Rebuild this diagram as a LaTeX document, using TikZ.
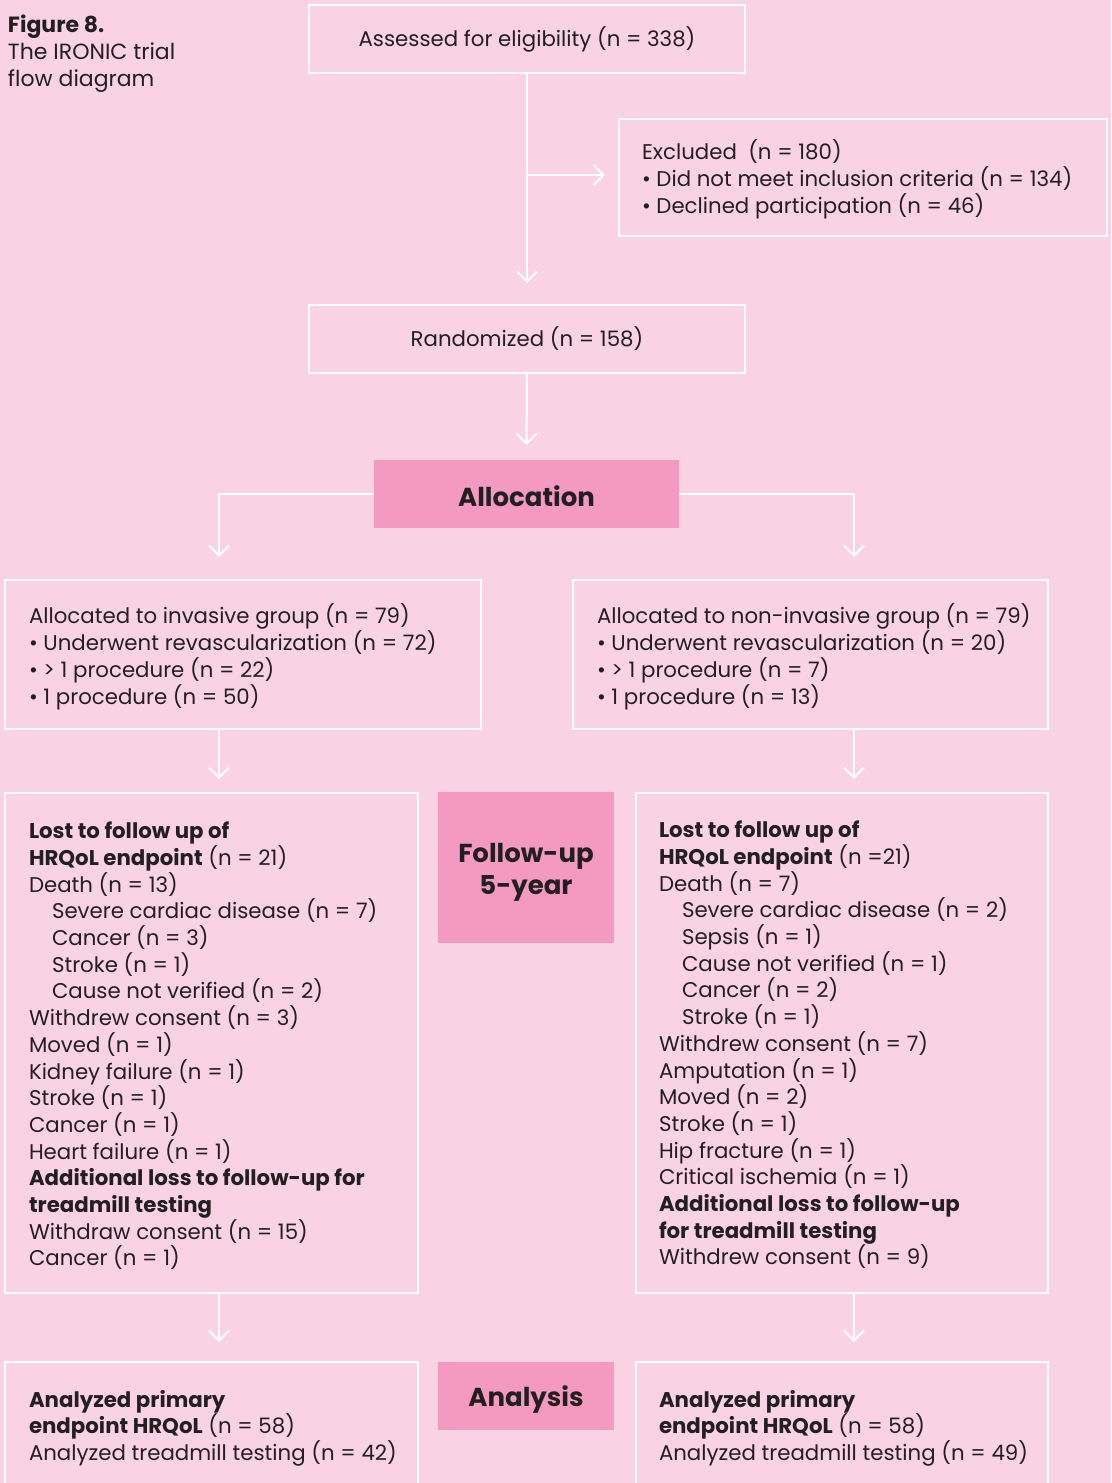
\documentclass[tikz,border=0pt]{standalone}
\usepackage{fontspec}
\setmainfont{Poppins}
\usetikzlibrary{arrows.meta}
\definecolor{bgpink}{HTML}{F9D3E3}
\definecolor{labelpink}{HTML}{F49AC1}
\definecolor{ink}{HTML}{231F20}
\begin{document}
\begin{tikzpicture}[x=1pt,y=-1pt,
 box/.style={draw=white, line width=1.5pt, inner sep=0pt, outer sep=0pt, anchor=north west, text=ink, font=\fontsize{21.3}{26.7}\selectfont},
 stage/.style={fill=labelpink, inner sep=0pt, outer sep=0pt, anchor=north west},
 stagetext/.style={inner sep=0pt, outer sep=0pt, font=\fontsize{26}{32}\selectfont\bfseries, text=ink, align=center},
 body/.style={anchor=north west, inner sep=0pt, outer sep=0pt, align=left, text=ink, font=\fontsize{21.3}{26.7}\selectfont},
 flow/.style={draw=white, line width=2pt, -{Straight Barb[length=10pt,width=20pt,line width=2pt]}},
]
\useasboundingbox (0,0) rectangle (1111,1483);
\fill[bgpink] (0,0) rectangle (1111,1483);
\clip (0,0) rectangle (1111,1483);

% title
\node[body, font=\fontsize{22}{27}\selectfont] (title) at (8,15) {\textbf{Figure 8.}\\The IRONIC trial\\flow diagram};

% boxes
\node[box, minimum width=436pt, minimum height=68pt] (assess) at (309,5) {Assessed for eligibility (n = 338)};
\node[box, minimum width=488pt, minimum height=117pt] (excl) at (619,119) {};
\node[body] (excltext) at (642,140) {Excluded\ \ (n = 180)\\• Did not meet inclusion criteria (n = 134)\\• Declined participation (n = 46)};
\node[box, minimum width=436pt, minimum height=68pt] (rand) at (309,305) {Randomized (n = 158)};
\node[stage, minimum width=305pt, minimum height=68pt] (alloc) at (374,460) {};
\node[stagetext] (alloctext) at ([yshift=-2pt]alloc.center) {Allocation};

\node[box, minimum width=476pt, minimum height=149pt] (allocL) at (5,580) {};
\node[body] (allocLtext) at (29,604) {Allocated to invasive group (n = 79)\\• Underwent revascularization (n = 72)\\• > 1 procedure (n = 22)\\• 1 procedure (n = 50)};
\node[box, minimum width=475pt, minimum height=149pt] (allocR) at (573,580) {};
\node[body] (allocRtext) at (597,604) {Allocated to non-invasive group (n = 79)\\• Underwent revascularization (n = 20)\\• > 1 procedure (n = 7)\\• 1 procedure (n = 13)};

\node[box, minimum width=413pt, minimum height=500pt] (followL) at (5,793) {};
\node[body] (followLtext) at (29,822) {\textbf{Lost to follow up of}\\
\textbf{HRQoL endpoint} (n = 21)\\
Death (n = 13)\\
\hspace*{23pt}Severe cardiac disease (n = 7)\\
\hspace*{23pt}Cancer (n = 3)\\
\hspace*{23pt}Stroke (n = 1)\\
\hspace*{23pt}Cause not verified (n = 2)\\
Withdrew consent (n = 3)\\
Moved (n = 1)\\
Kidney failure (n = 1)\\
Stroke (n = 1)\\
Cancer (n = 1)\\
Heart failure (n = 1)\\
\textbf{Additional loss to follow-up for}\\
\textbf{treadmill testing}\\
Withdraw consent (n = 15)\\
Cancer (n = 1)};
\node[stage, minimum width=176pt, minimum height=151pt] (follow) at (438,792) {};
\node[stagetext] (followtext) at ([yshift=-5pt]follow.center) {Follow-up\\5-year};
\node[box, minimum width=412pt, minimum height=500pt] (followR) at (636,793) {};
\node[body] (followRtext) at (659,821) {\textbf{Lost to follow up of}\\
\textbf{HRQoL endpoint} (n =21)\\
Death (n = 7)\\
\hspace*{23pt}Severe cardiac disease (n = 2)\\
\hspace*{23pt}Sepsis (n = 1)\\
\hspace*{23pt}Cause not verified (n = 1)\\
\hspace*{23pt}Cancer (n = 2)\\
\hspace*{23pt}Stroke (n = 1)\\
Withdrew consent (n = 7)\\
Amputation (n = 1)\\
Moved (n = 2)\\
Stroke (n = 1)\\
Hip fracture (n = 1)\\
Critical ischemia (n = 1)\\
\textbf{Additional loss to follow-up}\\
\textbf{for treadmill testing}\\
Withdrew consent (n = 9)};

\node[box, minimum width=413pt, minimum height=140pt] (anaL) at (5,1362) {};
\node[body] (anaLtext) at (29,1390) {\textbf{Analyzed primary}\\\textbf{endpoint HRQoL} (n = 58)\\Analyzed treadmill testing (n = 42)};
\node[stage, minimum width=176pt, minimum height=68pt] (analysis) at (438,1362) {};
\node[stagetext] (analysistext) at ([yshift=-4pt]analysis.center) {Analysis};
\node[box, minimum width=412pt, minimum height=140pt] (anaR) at (636,1362) {};
\node[body] (anaRtext) at (659,1390) {\textbf{Analyzed primary}\\\textbf{endpoint HRQoL} (n = 58)\\Analyzed treadmill testing (n = 49)};

% connectors
\coordinate (lcol) at (219,0);
\coordinate (rcol) at (854,0);
\coordinate (br) at (527,175);
\draw[flow, shorten >=22pt] (assess.south) -- (rand.north);
\draw[flow, shorten >=14pt] (br) -- (br -| excl.west);
\draw[flow, shorten >=15pt] (rand.south) -- (alloc.north);
\draw[flow, shorten >=23pt] (alloc.west) -| (lcol |- allocL.north);
\draw[flow, shorten >=23pt] (alloc.east) -| (rcol |- allocR.north);
\draw[flow, shorten >=14pt] (lcol |- allocL.south) -- (lcol |- followL.north);
\draw[flow, shorten >=14pt] (rcol |- allocR.south) -- (rcol |- followR.north);
\draw[flow, shorten >=20pt] (lcol |- followL.south) -- (lcol |- anaL.north);
\draw[flow, shorten >=20pt] (rcol |- followR.south) -- (rcol |- anaR.north);
\end{tikzpicture}
\end{document}
